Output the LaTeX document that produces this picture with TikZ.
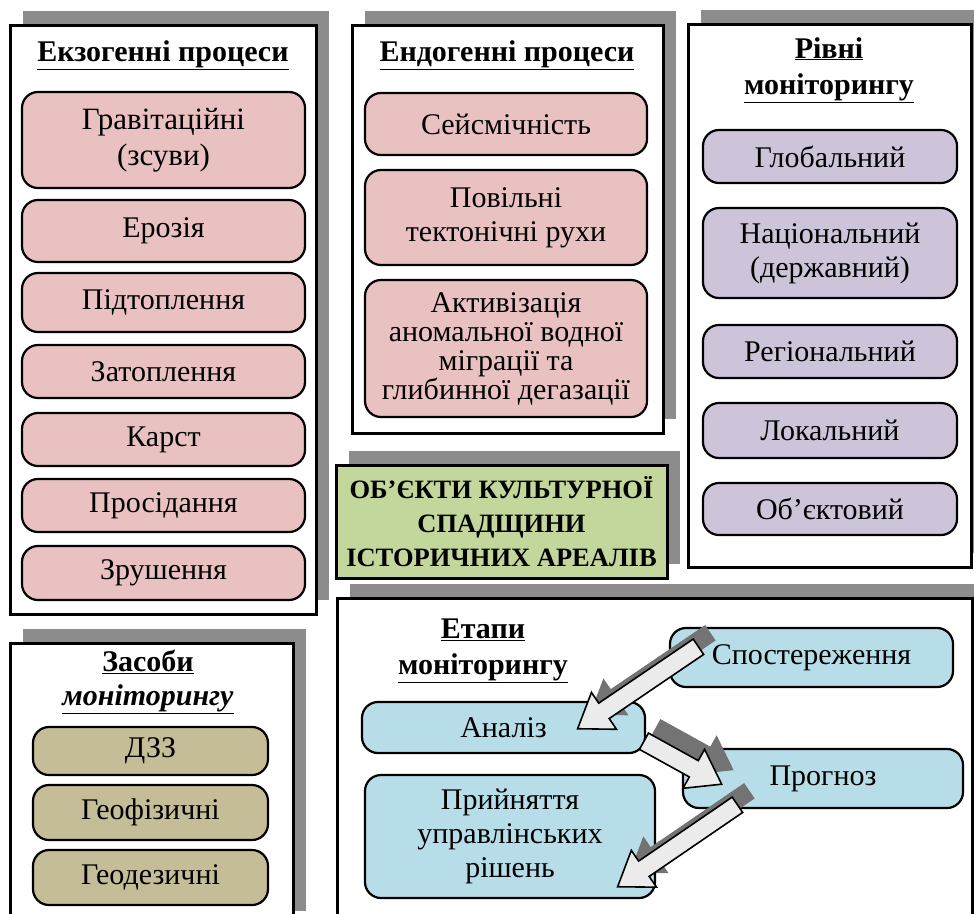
\documentclass[tikz,border=0pt]{standalone}
\usepackage{fontspec}
\setmainfont{Liberation Serif}
\usepackage{tikz}
\usetikzlibrary{calc,positioning,shapes.arrows,shadows}
\definecolor{exopink}{RGB}{232,193,192}
\definecolor{levelviolet}{RGB}{206,196,218}
\definecolor{tooltan}{RGB}{196,189,151}
\definecolor{stageblue}{RGB}{183,222,232}
\definecolor{heritagegreen}{RGB}{195,214,155}
\definecolor{shadowgray}{RGB}{140,140,140}

\begin{document}
\begin{tikzpicture}[x=1pt, y=-1pt,
      every node/.style={font=\fontsize{30}{34}\selectfont, align=center, inner sep=0pt},
      frame/.style={draw=black, line width=3pt, fill=white, drop shadow={fill=shadowgray, opacity=1, shadow xshift=13pt, shadow yshift=14pt}},
      title/.style={font=\fontsize{30}{36}\selectfont\bfseries},
      item/.style={draw=black, line width=2.2pt, rounded corners=16pt},
      process/.style={item, fill=exopink},
      level/.style={item, fill=levelviolet, minimum width=254pt},
      tool/.style={item, fill=tooltan, minimum width=235pt},
      stage/.style={item, fill=stageblue},
      stagearrow/.style={single arrow, draw=black, line width=1.6pt, fill=black!8, inner sep=8.5pt, single arrow head extend=13pt, single arrow tip angle=70},
      arrowshadow/.style={stagearrow, draw=none, fill=black!55}]
      \useasboundingbox (0,0) rectangle (974,913);
      % frames
      \node[frame, minimum width=306pt, minimum height=589pt] (exoframe) at (163,319.5) {};
      \node[frame, minimum width=311pt, minimum height=408pt] (endoframe) at (507.5,229) {};
      \node[frame, minimum width=283pt, minimum height=543pt] (levelframe) at (829.5,295.5) {};
      \node[frame, minimum width=283pt, minimum height=282pt] (toolframe) at (151.5,784) {};
      \node[frame, minimum width=635pt, minimum height=327pt] (stageframe) at (654.5,761.5) {};
      \node[frame, fill=heritagegreen, minimum width=331pt, minimum height=113pt, font=\fontsize{26.5}{34}\selectfont\bfseries] (heritage) at (501.5,521.5) {ОБ’ЄКТИ КУЛЬТУРНОЇ\\СПАДЩИНИ\\ІСТОРИЧНИХ АРЕАЛІВ};
      % exogenous processes
      \node[title] (exotitle) at (163,55) {\underline{Екзогенні процеси}};
      \node[process, minimum width=283pt, minimum height=96pt, font=\fontsize{31}{36}\selectfont] (grav) at (163.5,140) {Гравітаційні\\(зсуви)};
      \node[process, minimum width=283pt, minimum height=62pt] (erosion) at (163.5,231) {Ерозія};
      \node[process, minimum width=283pt, minimum height=59pt] (underflood) at (163.5,302.5) {Підтоплення};
      \node[process, minimum width=283pt, minimum height=53pt] (flood) at (163.5,371.5) {Затоплення};
      \node[process, minimum width=283pt, minimum height=53pt] (karst) at (163.5,439.5) {Карст};
      \node[process, minimum width=283pt, minimum height=53pt] (subsid) at (163.5,505.5) {Просідання};
      \node[process, minimum width=283pt, minimum height=54pt] (shift) at (163.5,573) {Зрушення};
      % endogenous processes
      \node[title] (endotitle) at (507,55) {\underline{Ендогенні процеси}};
      \node[process, minimum width=282pt, minimum height=62pt] (seism) at (506,124) {Сейсмічність};
      \node[process, minimum width=282pt, minimum height=95pt] (tecton) at (506,217.5) {Повільні\\тектонічні рухи};
      \node[process, minimum width=282pt, minimum height=137pt, font=\fontsize{30}{29}\selectfont] (activ) at (506,348.5) {Активізація\\аномальної водної\\міграції та\\глибинної дегазації};
      % monitoring levels
      \node[title] (leveltitle) at (829,70) {\underline{Рівні}\\\underline{моніторингу}};
      \node[level, minimum height=53pt] (global) at (830,156.5) {Глобальний};
      \node[level, minimum height=90pt] (nation) at (830,253) {Національний\\(державний)};
      \node[level, minimum height=53pt] (region) at (830,351.5) {Регіональний};
      \node[level, minimum height=55pt] (local) at (830,430.5) {Локальний};
      \node[level, minimum height=52pt] (object) at (830,509) {Об’єктовий};
      % monitoring tools
      \node[title, font=\fontsize{30}{34}\selectfont\bfseries] (tooltitle) at (148,682) {\underline{Засоби}\\\underline{\textit{моніторингу}}};
      \node[tool, minimum height=48pt] (dzz) at (150.5,751) {ДЗЗ};
      \node[tool, minimum height=55pt] (geophys) at (150.5,812.5) {Геофізичні};
      \node[tool, minimum height=55pt] (geodes) at (150.5,877.5) {Геодезичні};
      % monitoring stages
      \node[title] (stagetitle) at (483,651) {\underline{Етапи}\\\underline{моніторингу}};
      \node[stage, minimum width=283pt, minimum height=59pt] (obs) at (811.5,657.5) {Спостереження};
      \node[stage, minimum width=283pt, minimum height=51pt] (anal) at (503.5,727.5) {Аналіз};
      \node[stage, minimum width=280pt, minimum height=59pt] (prog) at (823,778.5) {Прогноз};
      \node[stage, minimum width=290pt, minimum height=123pt] (decis) at (510,836.5) {Прийняття\\управлінських\\рішень};
      \coordinate (a1s) at ($(obs.west)+(35,-14.5)$);
      \coordinate (a1e) at ($(anal.east)+(-63,-2.5)$);
      \coordinate (a2s) at ($(anal.east)+(-8,10.5)$);
      \coordinate (a2e) at ($(prog.west)+(34,2.5)$);
      \coordinate (a3s) at ($(prog.west)+(61,22.5)$);
      \coordinate (a3e) at ($(decis.east)+(-33,46.5)$);
      \path let \p1=(a1s), \p2=(a1e), \n1={veclen(\x2-\x1,\y2-\y1)} in ($(a1s)+(12,-14)$) -- ($(a1e)+(12,-14)$) node[midway, sloped, allow upside down, arrowshadow, minimum height=\n1] (arr1shadow) {};
      \path let \p1=(a1s), \p2=(a1e), \n1={veclen(\x2-\x1,\y2-\y1)} in (a1s) -- (a1e) node[midway, sloped, allow upside down, stagearrow, minimum height=\n1] (arr1) {};
      \path let \p1=(a2s), \p2=(a2e), \n1={veclen(\x2-\x1,\y2-\y1)} in ($(a2s)+(12,-14)$) -- ($(a2e)+(12,-14)$) node[midway, sloped, allow upside down, arrowshadow, minimum height=\n1] (arr2shadow) {};
      \path let \p1=(a2s), \p2=(a2e), \n1={veclen(\x2-\x1,\y2-\y1)} in (a2s) -- (a2e) node[midway, sloped, allow upside down, stagearrow, minimum height=\n1] (arr2) {};
      \path let \p1=(a3s), \p2=(a3e), \n1={veclen(\x2-\x1,\y2-\y1)} in ($(a3s)+(12,-14)$) -- ($(a3e)+(12,-14)$) node[midway, sloped, allow upside down, arrowshadow, minimum height=\n1] (arr3shadow) {};
      \path let \p1=(a3s), \p2=(a3e), \n1={veclen(\x2-\x1,\y2-\y1)} in (a3s) -- (a3e) node[midway, sloped, allow upside down, stagearrow, minimum height=\n1] (arr3) {};
\end{tikzpicture}
\end{document}
